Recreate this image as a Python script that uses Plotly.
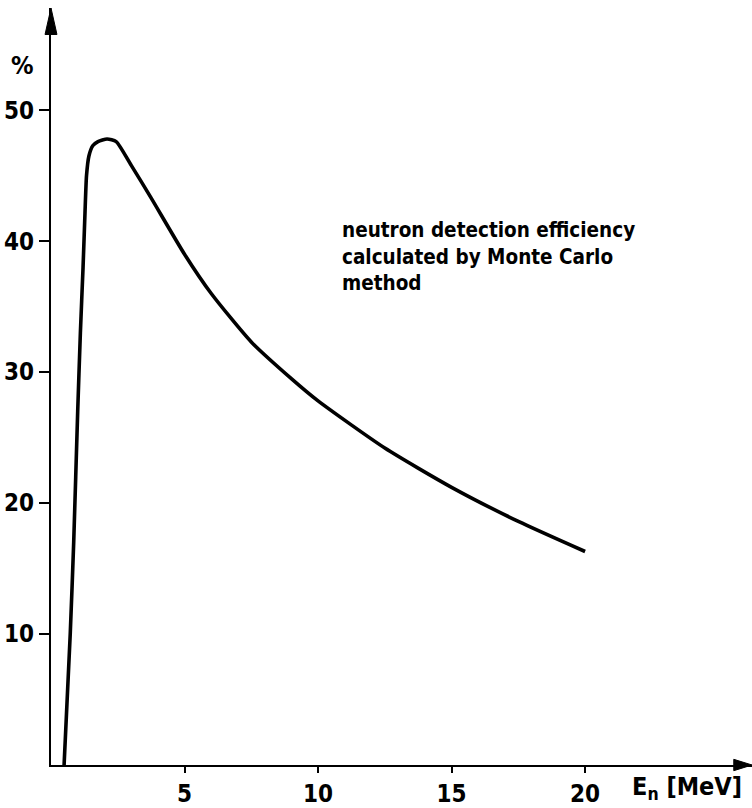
import plotly.graph_objects as go

# Neutron detection efficiency vs neutron energy (Monte Carlo calculation)
energy_mev = [0.49, 0.72, 0.85, 1.0, 1.1, 1.2, 1.27, 1.33, 1.42, 1.57, 1.76, 2.1, 2.44,
              3.0, 3.72, 5.0, 6.0, 7.5, 9.0, 10.0, 12.5, 15.0, 17.5, 20.0]
efficiency_pct = [0.0, 10.0, 17.0, 27.0, 33.0, 38.0, 42.0, 45.0, 46.5, 47.3, 47.6, 47.8, 47.6,
                  45.8, 43.4, 39.0, 36.0, 32.3, 29.5, 27.8, 24.2, 21.2, 18.6, 16.3]

x_ticks = [5, 10, 15, 20]
y_ticks = [10, 20, 30, 40, 50]

X_MAX = 26.25
Y_MAX = 57.8

FONT = "DejaVu Sans Condensed, Roboto, sans-serif"
AXIS_W = 2.2

fig = go.Figure()
fig.add_trace(go.Scatter(
    x=energy_mev, y=efficiency_pct, mode="lines",
    line=dict(color="black", width=3.6, shape="spline", smoothing=0.6),
    hoverinfo="skip", showlegend=False,
))

fig.update_xaxes(
    range=[0, X_MAX], tickvals=x_ticks, ticktext=[str(v) for v in x_ticks],
    showgrid=False, zeroline=False, showline=True, linecolor="black", linewidth=AXIS_W,
    ticks="outside", ticklen=6, tickwidth=2, tickcolor="black",
    tickfont=dict(family=FONT, size=24, color="black", weight="bold"),
)
fig.update_yaxes(
    range=[0, Y_MAX], tickvals=y_ticks, ticktext=[str(v) for v in y_ticks],
    showgrid=False, zeroline=False, showline=True, linecolor="black", linewidth=AXIS_W,
    ticks="outside", ticklen=10, tickwidth=2, tickcolor="black",
    tickfont=dict(family=FONT, size=24, color="black", weight="bold"),
)

# Filled arrowheads at the ends of both axes (paper coordinates, unclipped)
fig.add_shape(type="path", xref="paper", yref="paper",
              path="M 0.974 -0.0075 L 1.0 0 L 0.974 0.0075 Z",
              fillcolor="black", line=dict(color="black", width=1))
fig.add_shape(type="path", xref="paper", yref="paper",
              path="M -0.0085 0.965 L 0 1.0 L 0.0085 0.965 Z",
              fillcolor="black", line=dict(color="black", width=1))

# Axis unit labels
fig.add_annotation(
    x=-0.04, y=0.9245, xref="paper", yref="paper", xanchor="center", yanchor="middle",
    text="%", showarrow=False,
    font=dict(family=FONT, size=25, color="black", weight="bold"),
)
fig.add_annotation(
    x=0.826, y=-0.006, xref="paper", yref="paper", xanchor="left", yanchor="top",
    text="E<sub>n</sub> [MeV]", showarrow=False,
    font=dict(family=FONT, size=25, color="black", weight="bold"),
)

fig.add_annotation(
    x=10.82, y=41.9, xref="x", yref="y", xanchor="left", yanchor="top", align="left",
    text="neutron detection efficiency<br>calculated by Monte Carlo<br>method",
    showarrow=False, font=dict(family=FONT, size=20.5, color="black", weight="bold"),
)

fig.update_layout(
    width=752, height=808,
    margin=dict(l=51, r=0, t=8, b=32),
    paper_bgcolor="white", plot_bgcolor="white",
)

fig.write_html("out.html")
